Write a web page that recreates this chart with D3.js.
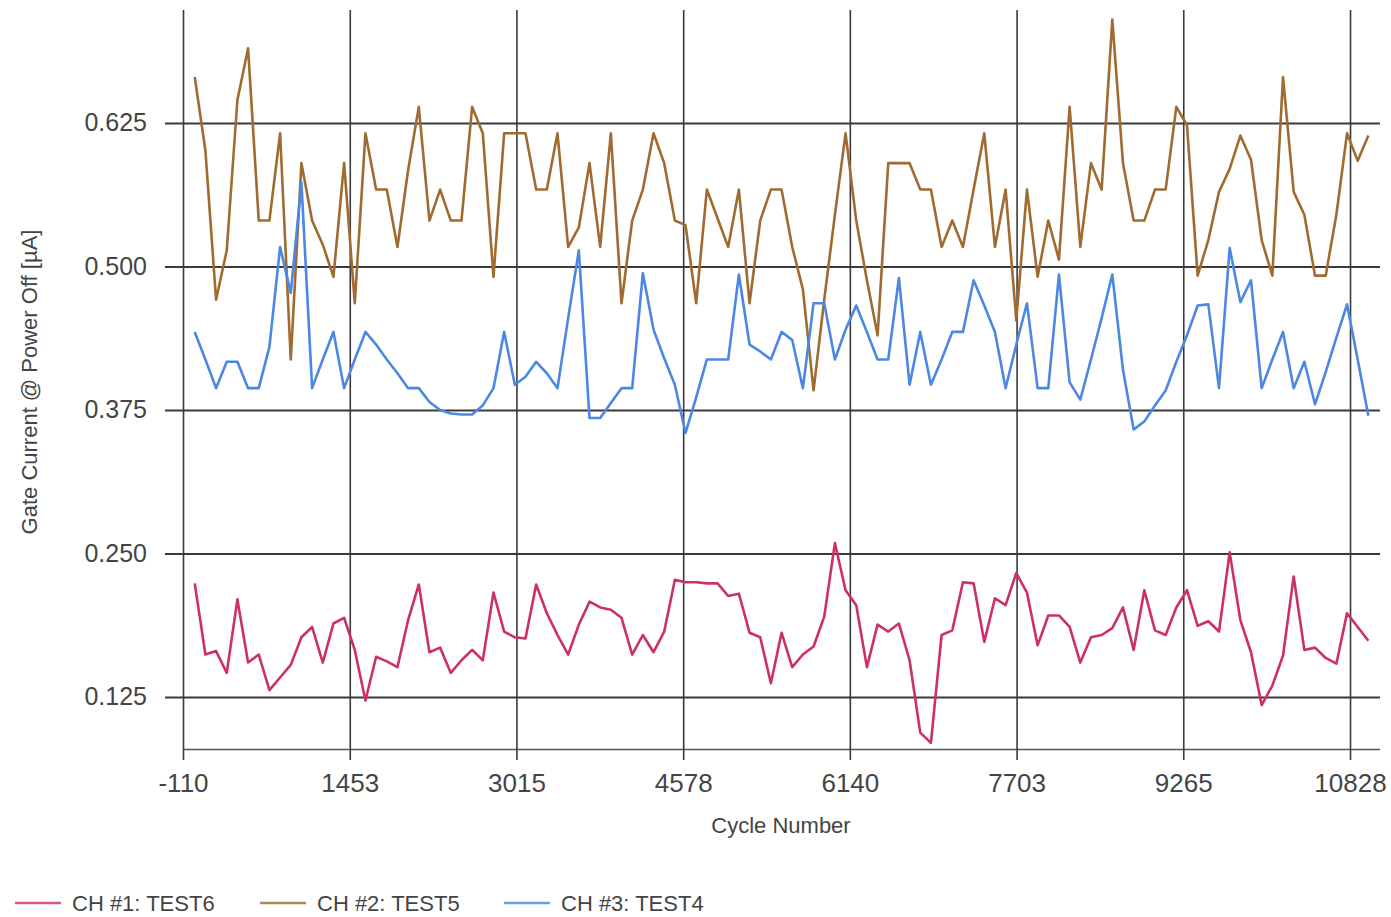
<!DOCTYPE html>
<html><head><meta charset="utf-8">
<script src="https://cdn.jsdelivr.net/npm/d3@7/dist/d3.min.js"></script>
<style>body{margin:0;background:#fff;}svg{display:block;}</style>
</head><body>
<script>
const cycles = [0,100,200,300,400,500,600,700,800,900,1000,1100,1200,1300,1400,1500,1600,1700,1800,1900,
2000,2100,2200,2300,2400,2500,2600,2700,2800,2900,3000,3100,3200,3300,3400,3500,3600,3700,3800,3900,
4000,4100,4200,4300,4400,4500,4600,4700,4800,4900,5000,5100,5200,5300,5400,5500,5600,5700,5800,5900,
6000,6100,6200,6300,6400,6500,6600,6700,6800,6900,7000,7100,7200,7300,7400,7500,7600,7700,7800,7900,
8000,8100,8200,8300,8400,8500,8600,8700,8800,8900,9000,9100,9200,9300,9400,9500,9600,9700,9800,9900,
10000,10100,10200,10300,10400,10500,10600,10700,10800,10900,11000];

const ch1Test6 = [0.224,0.162,0.165,0.146,0.210,0.155,0.162,0.131,0.142,0.153,
0.177,0.186,0.155,0.189,0.194,0.166,0.122,0.160,0.156,0.151,
0.192,0.223,0.164,0.168,0.146,0.157,0.166,0.157,0.216,0.182,
0.177,0.176,0.223,0.198,0.179,0.162,0.188,0.208,0.203,0.201,
0.194,0.162,0.179,0.164,0.182,0.227,0.225,0.225,0.224,0.224,
0.213,0.215,0.181,0.177,0.137,0.181,0.151,0.162,0.169,0.195,
0.259,0.218,0.205,0.151,0.188,0.182,0.189,0.157,0.094,0.085,
0.179,0.183,0.225,0.224,0.173,0.211,0.205,0.233,0.216,0.170,
0.196,0.196,0.186,0.155,0.177,0.179,0.185,0.203,0.166,0.218,
0.183,0.179,0.203,0.218,0.187,0.191,0.182,0.251,0.192,0.164,
0.118,0.135,0.161,0.230,0.166,0.168,0.159,0.154,0.198,0.186,0.174];

const ch2Test5 = [0.665,0.601,0.471,0.514,0.645,0.690,0.540,0.540,0.616,0.419,
0.590,0.540,0.519,0.491,0.590,0.468,0.616,0.567,0.567,0.517,
0.584,0.639,0.540,0.567,0.540,0.540,0.639,0.616,0.491,0.616,
0.616,0.616,0.567,0.567,0.616,0.517,0.534,0.590,0.517,0.616,
0.468,0.540,0.567,0.616,0.590,0.540,0.536,0.468,0.567,0.542,
0.517,0.567,0.468,0.540,0.567,0.567,0.517,0.480,0.392,0.471,
0.545,0.616,0.540,0.488,0.440,0.590,0.590,0.590,0.567,0.567,
0.517,0.540,0.517,0.567,0.616,0.517,0.567,0.453,0.567,0.491,
0.540,0.506,0.639,0.517,0.590,0.567,0.715,0.590,0.540,0.540,
0.567,0.567,0.639,0.623,0.492,0.523,0.565,0.585,0.614,0.593,
0.523,0.492,0.665,0.565,0.545,0.492,0.492,0.545,0.616,0.592,0.614];

const ch3Test4 = [0.443,0.419,0.394,0.417,0.417,0.394,0.394,0.430,0.517,0.477,
0.573,0.394,0.419,0.443,0.394,0.419,0.443,0.432,0.419,0.407,
0.394,0.394,0.382,0.375,0.372,0.371,0.371,0.379,0.394,0.443,
0.397,0.404,0.417,0.407,0.394,0.455,0.514,0.368,0.368,0.381,
0.394,0.394,0.494,0.445,0.420,0.397,0.355,0.386,0.419,0.419,
0.419,0.493,0.432,0.426,0.419,0.443,0.436,0.394,0.468,0.468,
0.419,0.445,0.466,0.443,0.419,0.419,0.490,0.397,0.443,0.397,
0.419,0.443,0.443,0.488,0.466,0.443,0.394,0.432,0.468,0.394,
0.394,0.493,0.399,0.384,0.419,0.455,0.493,0.410,0.358,0.365,
0.379,0.392,0.417,0.440,0.466,0.467,0.394,0.516,0.469,0.488,
0.394,0.419,0.443,0.394,0.417,0.380,0.408,0.438,0.467,0.419,0.370];

const seriesNames = ["CH #1: TEST6", "CH #2: TEST5", "CH #3: TEST4"];
const seriesColors = ["#cc2f6c", "#a06b30", "#4b87e3"];
const xTicks = [-110, 1453, 3015, 4578, 6140, 7703, 9265, 10828];
const yTicks = [0.125, 0.250, 0.375, 0.500, 0.625];
const xTitle = "Cycle Number";
const yTitle = "Gate Current @ Power Off [µA]";

(function () {
const W = 1391, H = 917;
const pLeft = 183, pRight = 1380, pTop = 10, pBottom = 749;
const svg = d3.select("body").append("svg").attr("width", W).attr("height", H);

const x = d3.scaleLinear().domain([-110, 11109]).range([pLeft, pRight]);
const y = d3.scaleLinear().domain([0.0797, 0.7234]).range([pBottom, pTop]);

const fontFam = "'Liberation Sans', Arial, sans-serif";

// Y axis + horizontal grid
const gy = svg.append("g").attr("transform", `translate(${pLeft},0)`)
  .call(d3.axisLeft(y).tickValues(yTicks).tickFormat(d3.format(".3f")).tickSize(18).tickPadding(18));
gy.select(".domain").remove();
gy.selectAll(".tick line").attr("x1", -18).attr("x2", pRight - pLeft).attr("stroke", "#3a3a3a").attr("stroke-width", 2);
gy.selectAll(".tick text").attr("font-family", fontFam).attr("font-size", 25).attr("fill", "#444").attr("x", -36);

// X axis + vertical grid
const gx = svg.append("g").attr("transform", `translate(0,${pBottom})`)
  .call(d3.axisBottom(x).tickValues(xTicks).tickFormat(d => String(d)).tickSize(11).tickPadding(14));
gx.select(".domain").attr("d", `M${pLeft},0.5H${pRight}`).attr("stroke", "#555").attr("stroke-width", 1.5);
gx.selectAll(".tick line").attr("y1", -(pBottom - pTop)).attr("y2", 11).attr("stroke", "#3a3a3a").attr("stroke-width", 1.6);
gx.selectAll(".tick text").attr("font-family", fontFam).attr("font-size", 26).attr("fill", "#444");

// Lines
const allSeries = [ch1Test6, ch2Test5, ch3Test4];
const line = d3.line().x((d, i) => x(cycles[i])).y(d => y(d));
allSeries.forEach((s, k) => {
  svg.append("path").datum(s).attr("d", line).attr("fill", "none")
    .attr("stroke", seriesColors[k]).attr("stroke-width", 2.6).attr("stroke-linejoin", "round");
});

// Axis titles
svg.append("text").attr("x", 781).attr("y", 833).attr("text-anchor", "middle")
  .attr("font-family", fontFam).attr("font-size", 22).attr("fill", "#444").text(xTitle);
svg.append("text").attr("transform", "translate(37,382) rotate(-90)").attr("text-anchor", "middle")
  .attr("font-family", fontFam).attr("font-size", 22).attr("fill", "#444").text(yTitle);

// Legend
const legendX = [15, 260, 504];
seriesNames.forEach((n, k) => {
  const g = svg.append("g").attr("transform", `translate(${legendX[k]},903)`);
  g.append("line").attr("x1", 0).attr("x2", 46).attr("y1", 0).attr("y2", 0)
    .attr("stroke", seriesColors[k]).attr("stroke-width", 2.5).attr("opacity", 0.8);
  g.append("text").attr("x", 57).attr("y", 8).attr("font-family", fontFam).attr("font-size", 22)
    .attr("fill", "#444").text(n);
});
})();
</script>
</body></html>
